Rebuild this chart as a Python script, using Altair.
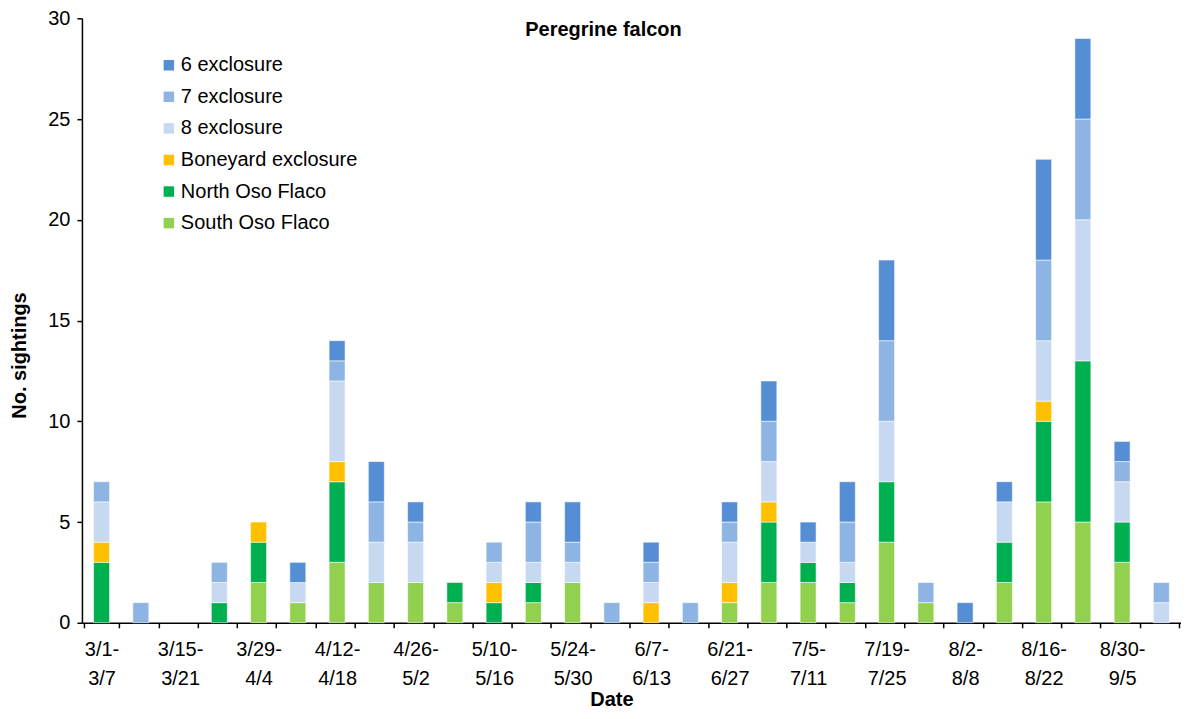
import altair as alt
import pandas as pd

weeks = ["3/1-3/7", "3/8-3/14", "3/15-3/21", "3/22-3/28", "3/29-4/4", "4/5-4/11",
         "4/12-4/18", "4/19-4/25", "4/26-5/2", "5/3-5/9", "5/10-5/16", "5/17-5/23",
         "5/24-5/30", "5/31-6/6", "6/7-6/13", "6/14-6/20", "6/21-6/27", "6/28-7/4",
         "7/5-7/11", "7/12-7/18", "7/19-7/25", "7/26-8/1", "8/2-8/8", "8/9-8/15",
         "8/16-8/22", "8/23-8/29", "8/30-9/5", "9/6-9/12"]
shown_labels = weeks[::2]

series_names = ["6 exclosure", "7 exclosure", "8 exclosure", "Boneyard exclosure",
                "North Oso Flaco", "South Oso Flaco"]
series_colors = ["#558ED5", "#8EB4E3", "#C6D9F1", "#FFC000", "#00B050", "#92D050"]

south = [0, 0, 0, 0, 2, 1, 3, 2, 2, 1, 0, 1, 2, 0, 0, 0, 1, 2, 2, 1, 4, 1, 0, 2, 6, 5, 3, 0]
north = [3, 0, 0, 1, 2, 0, 4, 0, 0, 1, 1, 1, 0, 0, 0, 0, 0, 3, 1, 1, 3, 0, 0, 2, 4, 8, 2, 0]
boneyard = [1, 0, 0, 0, 1, 0, 1, 0, 0, 0, 1, 0, 0, 0, 1, 0, 1, 1, 0, 0, 0, 0, 0, 0, 1, 0, 0, 0]
exc8 = [2, 0, 0, 1, 0, 1, 4, 2, 2, 0, 1, 1, 1, 0, 1, 0, 2, 2, 1, 1, 3, 0, 0, 2, 3, 7, 2, 1]
exc7 = [1, 1, 0, 1, 0, 0, 1, 2, 1, 0, 1, 2, 1, 1, 1, 1, 1, 2, 0, 2, 4, 1, 0, 0, 4, 5, 1, 1]
exc6 = [0, 0, 0, 0, 0, 1, 1, 2, 1, 0, 0, 1, 2, 0, 1, 0, 1, 2, 1, 2, 4, 0, 1, 1, 5, 4, 1, 0]

series_values = {
    "South Oso Flaco": south,
    "North Oso Flaco": north,
    "Boneyard exclosure": boneyard,
    "8 exclosure": exc8,
    "7 exclosure": exc7,
    "6 exclosure": exc6,
}
stack_order = {name: i for i, name in enumerate(series_values.keys())}

rows = []
for name, vals in series_values.items():
    for w, v in zip(weeks, vals):
        rows.append({"week": w, "site": name, "count": v, "order": stack_order[name]})
df = pd.DataFrame(rows)

label_list = ",".join("'" + s + "'" for s in shown_labels)
label_expr = (f"indexof([{label_list}], datum.value) >= 0 ? "
              "[split(datum.value, '-')[0] + '-', split(datum.value, '-')[1]] : ''")

FONT = "Liberation Sans"

chart = alt.Chart(df).transform_filter("datum.count > 0").mark_bar(
    size=16, stroke="white", strokeWidth=0.8, strokeOpacity=0.7
).encode(
    x=alt.X("week:N", scale=alt.Scale(domain=weeks), sort=weeks,
            axis=alt.Axis(title="Date", labelExpr=label_expr, labelAngle=0,
                          labelOverlap=False, tickBand="extent", labelLineHeight=29,
                          labelPadding=12, titleX=530, titleY=67, titleBaseline="top")),
    y=alt.Y("count:Q", stack="zero",
            scale=alt.Scale(domain=[0, 30], nice=False),
            axis=alt.Axis(title="No. sightings", values=[0, 5, 10, 15, 20, 25, 30],
                          grid=False, labelPadding=7, titleX=-52, titleY=337)),
    color=alt.Color("site:N",
                    scale=alt.Scale(domain=series_names, range=series_colors),
                    legend=alt.Legend(title=None, orient="none", legendX=77, legendY=37,
                                      symbolType="square", symbolSize=110,
                                      symbolStrokeWidth=0, labelFontSize=20,
                                      labelFont=FONT, labelLimit=400, rowPadding=11.6,
                                      labelOffset=2)),
    order=alt.Order("order:Q", sort="ascending"),
).properties(
    width=1100, height=605,
    title=alt.TitleParams("Peregrine falcon", font=FONT, fontSize=20, fontWeight="bold",
                          anchor="middle", baseline="top", offset=-32, dx=-28),
    autosize=alt.AutoSizeParams(type="none"),
    padding={"left": 74, "top": 10, "right": 0, "bottom": 88},
).configure_view(stroke=None).configure_axis(
    labelFont=FONT, labelFontSize=20, labelColor="black",
    titleFont=FONT, titleFontSize=20, titleFontWeight="bold", titleColor="black",
    domainColor="black", tickColor="black", domainWidth=1.5, tickWidth=1.5, tickSize=5,
)

chart.save("out.html", embed_options={"renderer": "svg", "actions": False})
